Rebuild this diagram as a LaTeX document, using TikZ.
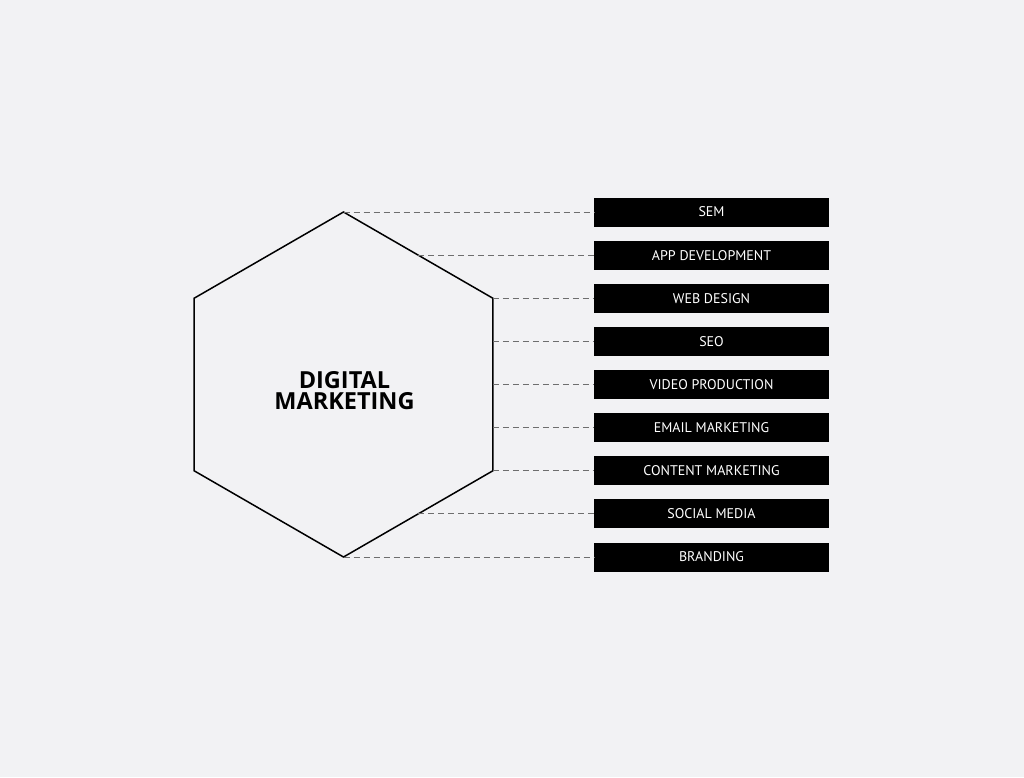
\documentclass[tikz,border=0pt]{standalone}
\usepackage{fontspec}
\usetikzlibrary{calc}
\setmainfont{PT Sans}
\newfontfamily\titlefont{Open Sans}
\definecolor{bgc}{HTML}{F2F2F4}
\definecolor{dashc}{HTML}{6E6E6E}
\begin{document}
\begin{tikzpicture}[x=1pt,y=-1pt,
  itembox/.style={fill=black,text=white,minimum width=235pt,minimum height=29pt,inner sep=0pt,font=\fontsize{14}{16}\selectfont},
  link/.style={draw=dashc,line width=0.9pt,dash pattern=on 6pt off 4pt},
  hexline/.style={draw=black,line width=1.5pt,line join=miter}]
\fill[bgc] (0,0) rectangle (1024,777);
\useasboundingbox (0,0) rectangle (1024,777);
% hexagon vertices
\coordinate (ht) at (343.5,212);
\coordinate (hur) at (492.9,298.25);
\coordinate (hlr) at (492.9,470.75);
\coordinate (hb) at (343.5,557);
\coordinate (hll) at (194.1,470.75);
\coordinate (hul) at (194.1,298.25);
\draw[hexline] (ht) -- (hur) -- (hlr) -- (hb) -- (hll) -- (hul) -- cycle;
\node[font=\titlefont\bfseries\fontsize{23.5}{21.5}\selectfont,align=center] (title) at (344.5,390.5) {DIGITAL\\MARKETING};
% start points on hexagon
\coordinate (s1) at (ht);
\coordinate (s2) at ($(ht)!0.5!(hur)$);
\coordinate (s3) at (hur);
\coordinate (s4) at (492.9,341.375);
\coordinate (s5) at (492.9,384.5);
\coordinate (s6) at (492.9,427.625);
\coordinate (s7) at (hlr);
\coordinate (s8) at ($(hlr)!0.5!(hb)$);
\coordinate (s9) at (hb);
% boxes
\node[itembox] (b1) at (711.5,212) {SEM};
\node[itembox] (b2) at (711.5,255.125) {APP DEVELOPMENT};
\node[itembox] (b3) at (711.5,298.25) {WEB DESIGN};
\node[itembox] (b4) at (711.5,341.375) {SEO};
\node[itembox] (b5) at (711.5,384.5) {VIDEO PRODUCTION};
\node[itembox] (b6) at (711.5,427.625) {EMAIL MARKETING};
\node[itembox] (b7) at (711.5,470.75) {CONTENT MARKETING};
\node[itembox] (b8) at (711.5,513.875) {SOCIAL MEDIA};
\node[itembox] (b9) at (711.5,557) {BRANDING};
\foreach \i in {1,...,9} {\draw[link] (s\i) -- (b\i.west);}
\end{tikzpicture}
\end{document}
